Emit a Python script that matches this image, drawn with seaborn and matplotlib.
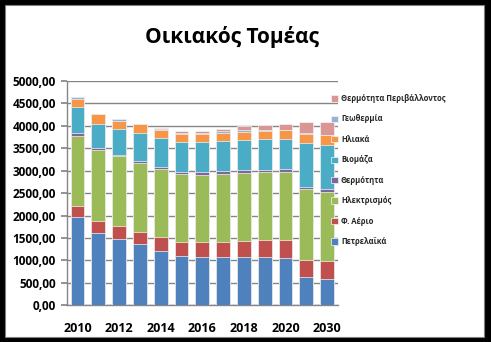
import matplotlib
matplotlib.use("Agg")
import matplotlib.pyplot as plt
from matplotlib.patches import Rectangle, Patch
import seaborn as sns
import numpy as np
import pandas as pd

years = ["2010", "2011", "2012", "2013", "2014", "2015", "2016", "2017",
         "2018", "2019", "2020", "2025", "2030"]
tick_years = ["2010", "2012", "2014", "2016", "2018", "2020", "2030"]

petrelaika = [1960, 1611, 1476, 1356, 1215, 1096, 1074, 1074, 1074, 1074, 1051, 640, 582]
fysiko_aerio = [261, 275, 282, 268, 306, 304, 326, 326, 349, 371, 394, 380, 409]
ilektrismos = [1551, 1566, 1560, 1537, 1528, 1522, 1499, 1530, 1530, 1521, 1521, 1566, 1544]
thermotita = [60, 44, 38, 60, 38, 44, 67, 59, 58, 54, 67, 60, 60]
viomaza = [588, 553, 581, 627, 640, 671, 671, 671, 671, 684, 671, 978, 975]
iliaka = [179, 208, 170, 185, 179, 173, 173, 179, 179, 180, 202, 201, 224]
geothermia = [45, 10, 38, 10, 20, 22, 22, 45, 40, 15, 10, 10, 10]
thermotita_periv = [0, 0, 0, 0, 25, 60, 60, 53, 88, 112, 117, 243, 274]

series_names = ["Πετρελαϊκά", "Φ. Αέριο", "Ηλεκτρισμός", "Θερμότητα",
                "Βιομάζα", "Ηλιακά", "Γεωθερμία", "Θερμότητα Περιβάλλοντος"]
series_values = [petrelaika, fysiko_aerio, ilektrismos, thermotita,
                 viomaza, iliaka, geothermia, thermotita_periv]
colors = ["#4F81BD", "#C0504D", "#9BBB59", "#8064A2",
          "#4BACC6", "#F79646", "#95B3D7", "#D99694"]

sns.set_theme(style="white")
plt.rcParams["font.family"] = ["Open Sans", "DejaVu Sans"]

W, H = 491, 342
fig = plt.figure(figsize=(W / 100, H / 100), dpi=100, facecolor="black")
bg = Rectangle((5 / W, 5 / H), 479 / W, 332 / H, transform=fig.transFigure,
               facecolor="white", edgecolor="#808080", linewidth=0.8, zorder=-10)
fig.add_artist(bg)

ax = fig.add_axes([67 / W, (H - 305.3) / H, 270.5 / W, 224.3 / H])
ax.set_zorder(1)
ax.set_facecolor("none")

data = pd.DataFrame({name: vals for name, vals in zip(series_names, series_values)})
data["year"] = years
cum = data[series_names].cumsum(axis=1)

# draw cumulative bars from top layer downwards so each segment shows its own colour
for name, col in reversed(list(zip(series_names, colors))):
    sns.barplot(x=data["year"], y=cum[name], color=col, width=0.66, ax=ax,
                order=years, edgecolor="#f4f4f4", linewidth=0.5, saturation=1, zorder=3)

ax.set_ylim(0, 5000)
ax.set_xlim(-0.5, len(years) - 0.5)
yt = np.arange(0, 5001, 500)
ax.set_yticks(yt)
ax.set_yticklabels([f"{v:.2f}".replace(".", ",") for v in yt],
                   fontsize=8.5, fontweight="bold", color="black")
tick_pos = [years.index(y) for y in tick_years]
ax.set_xticks(tick_pos)
ax.set_xticklabels(tick_years, fontsize=9, fontweight="bold", color="black")
ax.set_xlabel("")
ax.set_ylabel("")
ax.grid(axis="y", color="#868686", linewidth=1, zorder=0)
ax.set_axisbelow(True)
for s in ["top", "right"]:
    ax.spines[s].set_visible(False)
for s in ["left", "bottom"]:
    ax.spines[s].set_color("#868686")
    ax.spines[s].set_linewidth(1)
ax.tick_params(axis="y", which="both", left=True, length=4, color="#868686", pad=4)
ax.tick_params(axis="x", which="both", bottom=False, pad=6)

handles = [Patch(facecolor=c, edgecolor="#f4f4f4", linewidth=0.5) for c in colors]
leg = fig.legend(handles[::-1], series_names[::-1], loc="upper left",
                 bbox_to_anchor=(331 / W, 1 - 94 / H), bbox_transform=fig.transFigure,
                 frameon=False, fontsize=5.5, handlelength=0.9, handleheight=0.9,
                 handletextpad=0.4, labelspacing=1.5, borderpad=0, borderaxespad=0)
leg.set_zorder(5)
for t in leg.get_texts():
    t.set_fontweight("bold")

fig.text(232 / W, 1 - 37 / H, "Οικιακός Τομέας", ha="center", va="center",
         fontsize=15, fontweight="bold", color="black")

fig.savefig("out.png", dpi=100, facecolor="black")
